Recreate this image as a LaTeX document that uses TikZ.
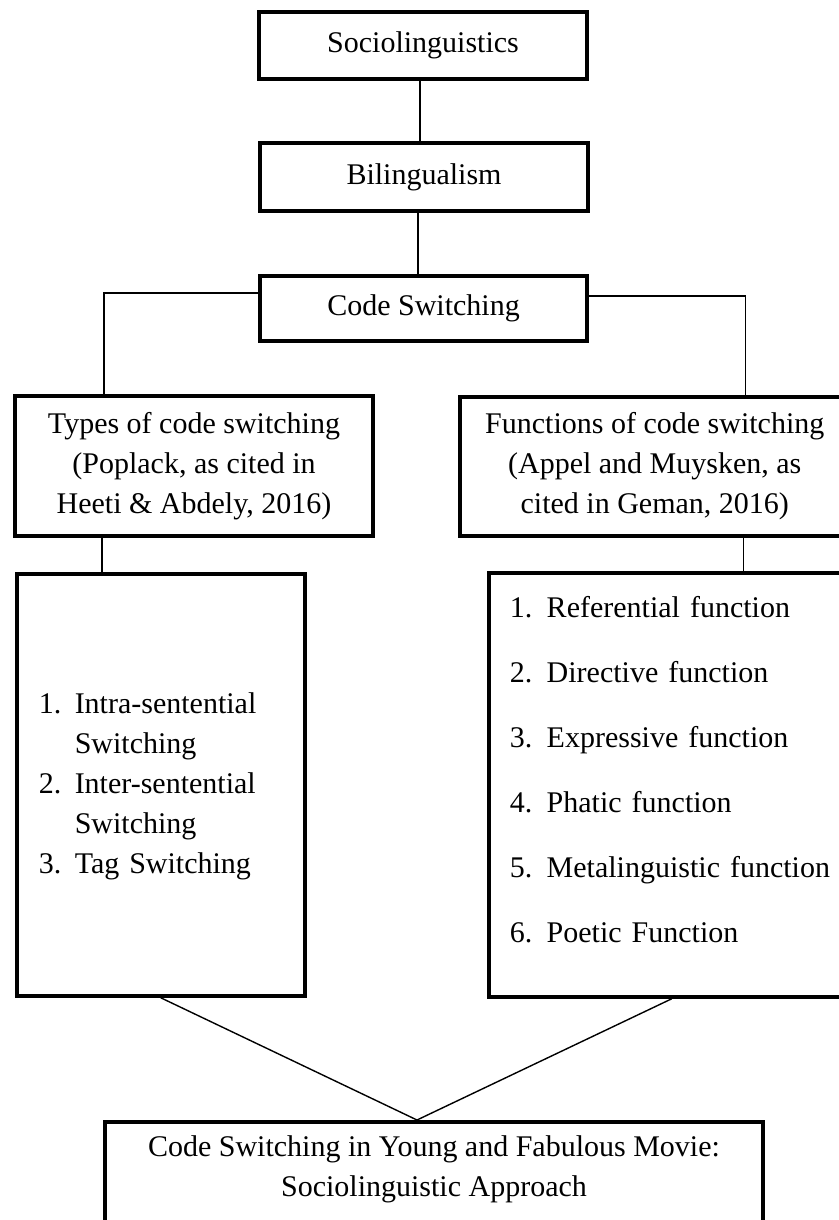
\documentclass[tikz,border=0pt]{standalone}
\usepackage{fontspec}
\setmainfont{Liberation Serif}
\usepackage{tikz}
\newcommand{\listnum}[1]{\makebox[18pt][l]{#1}}
\tikzset{box/.style={draw, line width=1.75pt, align=center, inner sep=0pt, font=\fontsize{15}{20}\selectfont},
	link/.style={line width=0.7pt}}

\begin{document}
\begin{tikzpicture}[x=0.5pt, y=-0.5pt]
		\clip (0,0) rectangle (839,1220);
		\node(socio)[box, minimum width=164pt, minimum height=33.5pt] at (423,45.5){Sociolinguistics};
		\node(biling)[box, minimum width=164pt, minimum height=34pt] at (424,177){Bilingualism};
		\node(codesw)[box, minimum width=163.5pt, minimum height=32.5pt] at (423.5,308.5){Code Switching};
		\node(types)[box, minimum width=179pt, minimum height=70pt] at (194,466){Types of code switching\\(Poplack, as cited in\\Heeti \& Abdely, 2016)};
		\node(funcs)[box, anchor=west, minimum width=195pt, minimum height=69.5pt] at (458,466.5){Functions of code switching\\(Appel and Muysken, as\\cited in Geman, 2016)};
		\node(typelist)[box, anchor=west, align=left, text width=122pt, inner xsep=11pt, minimum height=211pt] at (15,785){%
			\begin{tabular}{@{}l@{}}
			\listnum{1.}Intra-sentential\\
			\listnum{}Switching\\
			\listnum{2.}Inter-sentential\\
			\listnum{}Switching\\
			\listnum{3.}Tag Switching
			\end{tabular}};
		\node(funclist)[box, anchor=west, align=left, text width=165pt, inner xsep=10.5pt, minimum height=212pt] at (487,785){%
			\begin{tabular}{@{}l@{}}
			\makebox[18.5pt][l]{1.}Referential function\\[12.5pt]
			\makebox[18.5pt][l]{2.}Directive function\\[12.5pt]
			\makebox[18.5pt][l]{3.}Expressive function\\[12.5pt]
			\makebox[18.5pt][l]{4.}Phatic function\\[12.5pt]
			\makebox[18.5pt][l]{5.}Metalinguistic function\\[12.5pt]
			\makebox[18.5pt][l]{6.}Poetic Function\\[13pt]
			\end{tabular}};
		\node(result)[box, anchor=north, minimum width=329pt, minimum height=54pt] at (434,1120){%
			\begin{tabular}{@{}c@{}}
			Code Switching in Young and Fabulous Movie:\\
			Sociolinguistic Approach\\[7pt]
			\end{tabular}};
		\coordinate(meet) at ([xshift=-8.5pt]result.north);
		\draw[link]([xshift=-1.5pt]socio.south) to ([xshift=-1.5pt]socio.south |- biling.north);
		\draw[link]([xshift=-3pt]biling.south) to ([xshift=-3pt]biling.south |- codesw.north);
		\draw[link]([yshift=7.75pt]codesw.west) -| ([xshift=-45pt]types.north);
		\draw[link]([yshift=6.25pt]codesw.east) -| ([xshift=45.5pt]funcs.north);
		\draw[link]([xshift=-46pt]types.south) to ([xshift=-46pt]types.south |- typelist.north);
		\draw[link]([xshift=44.5pt]funcs.south) to ([xshift=44.5pt]funcs.south |- funclist.north);
		\draw[link](typelist.south) to (meet);
		\draw[link]([xshift=-1.5pt]funclist.south) to (meet);
	\end{tikzpicture}
\end{document}
